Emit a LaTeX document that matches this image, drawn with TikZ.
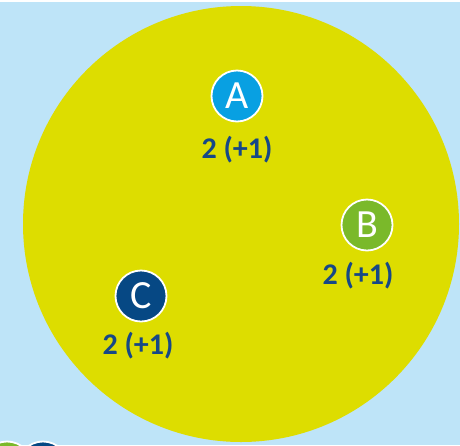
\documentclass[tikz,border=0pt]{standalone}
\usepackage{fontspec}
\setmainfont{Carlito}
\definecolor{skyback}{RGB}{190,228,248}
\definecolor{setyellow}{RGB}{221,221,0}
\definecolor{teamA}{RGB}{8,160,226}
\definecolor{teamB}{RGB}{122,185,42}
\definecolor{teamC}{RGB}{6,72,132}
\definecolor{counttext}{RGB}{22,72,135}

\begin{document}
\begin{tikzpicture}[x=1pt,y=-1pt,
		team/.style={circle,draw=white,line width=1.8pt,minimum size=51pt,inner sep=0pt,text=white,font=\fontsize{40}{40}\selectfont},
		count/.style={text=counttext,inner sep=0pt,font=\fontsize{30}{30}\selectfont\bfseries}]
		\useasboundingbox (0,0) rectangle (460,445);
		\clip (0,0) rectangle (460,445);
		\fill[white] (0,0) rectangle (460,445);
		\fill[skyback] (0,2) rectangle (460,445);
		\fill[setyellow] (241,224) circle (218);
		\node[team,fill=teamA] (a) at (237,96) {A};
		\node[team,fill=teamB] (b) at (367,225) {B};
		\node[team,fill=teamC] (c) at (141,296) {C};
		\node[count] (na) at (237,150) {2 (+1)};
		\node[count] (nb) at (358,276) {2 (+1)};
		\node[count] (nc) at (138,346) {2 (+1)};
		\node[team,fill=teamB] (g) at (7,467) {};
		\node[team,fill=teamC] (d) at (43,467) {};
	\end{tikzpicture}
\end{document}
